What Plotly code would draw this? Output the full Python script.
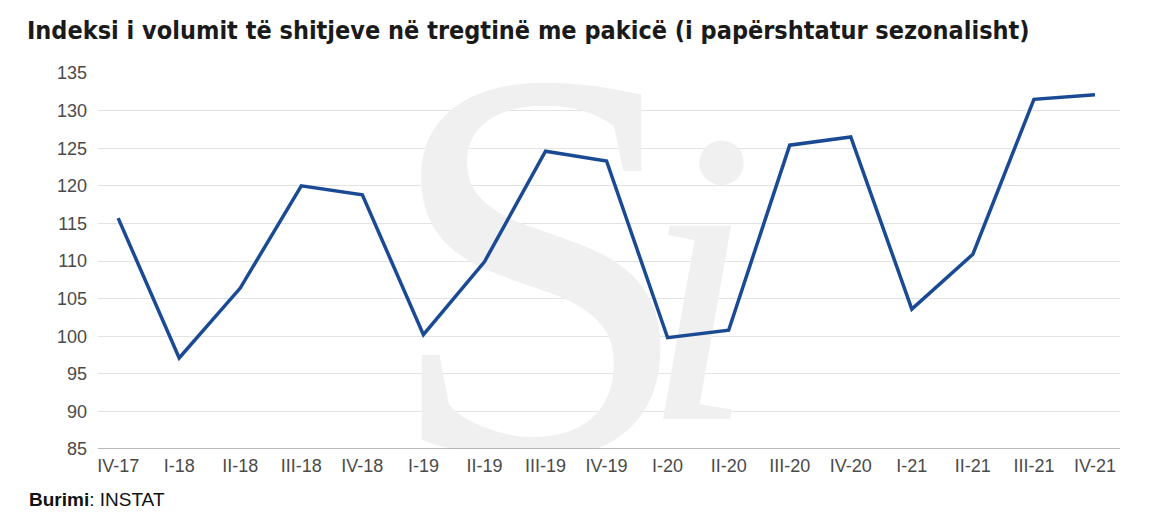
import plotly.graph_objects as go

# quarters and index values
quarters = ["IV-17", "I-18", "II-18", "III-18", "IV-18", "I-19", "II-19", "III-19", "IV-19",
            "I-20", "II-20", "III-20", "IV-20", "I-21", "II-21", "III-21", "IV-21"]
index_values = [115.7, 97.1, 106.4, 120.0, 118.8, 100.2, 109.9, 124.6, 123.3,
                99.8, 100.8, 125.4, 126.5, 103.6, 110.9, 131.5, 132.1]
y_ticks = [85, 90, 95, 100, 105, 110, 115, 120, 125, 130, 135]

positions = list(range(len(quarters)))
cond = "DejaVu Sans Condensed, Liberation Sans, sans-serif"
tickfont = dict(family="Liberation Sans, Arial, sans-serif", size=18, color="#4a4a4a")

fig = go.Figure()

# watermark "Si" behind the line
fig.add_trace(go.Scatter(
    x=[6.9], y=[103], mode="text", text=["S"],
    textfont=dict(family="Liberation Serif, serif", size=560, color="#f0f0f0"),
    hoverinfo="skip", showlegend=False,
))
fig.add_trace(go.Scatter(
    x=[9.5], y=[103], mode="text", text=["i"],
    textfont=dict(family="Liberation Serif, serif", size=420, color="#f0f0f0", style="italic"),
    hoverinfo="skip", showlegend=False,
))

fig.add_trace(go.Scatter(
    x=positions, y=index_values, mode="lines",
    line=dict(color="#1b4a94", width=3.5),
    showlegend=False,
))

fig.update_layout(
    width=1150, height=524,
    margin=dict(l=90, r=38, t=65, b=83),
    paper_bgcolor="white", plot_bgcolor="white",
    title=dict(text="<b>Indeksi i volumit të shitjeve në tregtinë me pakicë (i papërshtatur sezonalisht)</b>",
               x=0.0165, xanchor="left", y=0.958, yanchor="middle",
               font=dict(family=cond, size=25, color="#1a1a1a")),
    xaxis=dict(range=[-0.33, 16.41], tickvals=positions, ticktext=quarters,
               showgrid=False, zeroline=False, showline=False, ticks="",
               ticklabelstandoff=4, tickfont=tickfont),
    yaxis=dict(range=[85, 135], tickvals=y_ticks, showgrid=True, gridcolor="#e3e3e3",
               gridwidth=1, zeroline=False, ticks="", ticklabelstandoff=10,
               tickfont=tickfont),
    annotations=[dict(text="<b>Burimi</b>: INSTAT", xref="paper", yref="paper",
                      x=-0.0695, y=-0.1356, xanchor="left", yanchor="middle", showarrow=False,
                      font=dict(family="Liberation Sans, Arial, sans-serif", size=19, color="#111111"))],
    shapes=[dict(type="line", xref="paper", yref="y", x0=0, x1=1, y0=85, y1=85,
                 line=dict(color="#a0a0a0", width=1.5))],
)

fig.write_html("out.html")
